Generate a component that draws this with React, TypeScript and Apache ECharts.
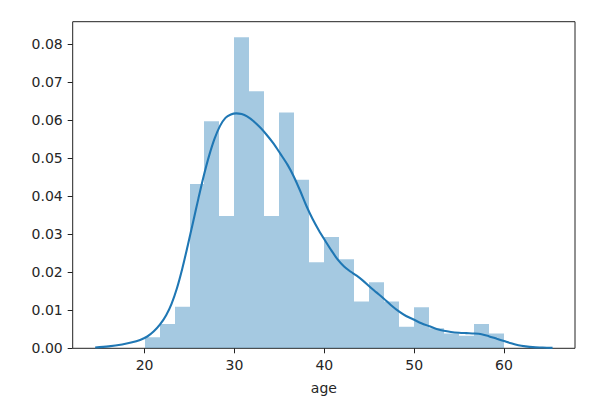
import React, { useEffect, useRef } from "react";
import * as echarts from "echarts";

// Histogram (density) of age: 24 bins from 20 to 60
const binStart = 20;
const binEnd = 60;
const density = [
  0.0029, 0.0064, 0.0109, 0.0432, 0.0597, 0.0348, 0.0818, 0.0676,
  0.0348, 0.062, 0.0443, 0.0226, 0.0293, 0.0234, 0.0123, 0.0174,
  0.0123, 0.0057, 0.0108, 0.0053, 0.0039, 0.0033, 0.0064, 0.0039,
];

// KDE curve
const kdeX = [
  14.5, 16.0, 17.5, 18.5, 19.5, 20.3, 21.0, 21.7, 22.4, 23.0, 23.6, 24.2,
  24.8, 25.4, 26.0, 26.6, 27.2, 27.8, 28.4, 29.0, 29.6, 30.2, 30.8, 31.4,
  32.1, 32.9, 33.6, 34.4, 35.1, 35.9, 36.6, 37.3, 38.0, 38.7, 39.4, 40.1,
  40.8, 41.5, 42.2, 42.9, 43.6, 44.3, 45.0, 45.8, 46.6, 47.4, 48.3, 49.1,
  50.0, 50.8, 51.7, 52.5, 53.3, 54.1, 55.0, 55.8, 56.7, 57.5, 58.3, 59.2,
  60.0, 60.8, 61.6, 62.4, 63.2, 64.3, 65.4,
];
const kdeY = [
  0.0002, 0.0005, 0.001, 0.0015, 0.0022, 0.0031, 0.0044, 0.0062, 0.0087,
  0.0117, 0.0158, 0.021, 0.027, 0.0332, 0.0395, 0.0455, 0.0508, 0.0552,
  0.0585, 0.0606, 0.0615, 0.0618, 0.0616, 0.061, 0.0598, 0.058, 0.0561,
  0.0537, 0.0512, 0.0483, 0.0452, 0.0415, 0.0375, 0.034, 0.031, 0.0283,
  0.0257, 0.0233, 0.0215, 0.0202, 0.0191, 0.0178, 0.0163, 0.0147, 0.0131,
  0.0114, 0.0097, 0.0085, 0.0075, 0.0066, 0.0058, 0.0051, 0.0046, 0.0043,
  0.0041, 0.004, 0.0039, 0.0037, 0.0032, 0.0025, 0.0019, 0.0013, 0.0008,
  0.0005, 0.0003, 0.0002, 0.0001,
];

const xTicks = [20, 30, 40, 50, 60];
const yTicks = [0, 0.01, 0.02, 0.03, 0.04, 0.05, 0.06, 0.07, 0.08];
const xName = "age";

export default function App() {
  const ref = useRef<HTMLDivElement>(null);

  useEffect(() => {
    if (!ref.current) return;
    const chart = echarts.init(ref.current, undefined, { renderer: "svg" });
    const bw = (binEnd - binStart) / density.length;
    const histData = density.map((d, i) => [
      binStart + i * bw,
      binStart + (i + 1) * bw,
      d,
    ]);
    const kdeData = kdeX.map((x, i) => [x, kdeY[i]]);
    const textColor = "#262626";
    const font = "DejaVu Sans";

    chart.setOption({
      animation: false,
      backgroundColor: "#ffffff",
      grid: {
        left: 72.7,
        right: 30,
        top: 21.7,
        bottom: 54.7,
        show: true,
        borderColor: "#222",
        borderWidth: 1,
        backgroundColor: "transparent",
      },
      xAxis: {
        type: "value",
        min: 12,
        max: 67.9,
        name: xName,
        nameLocation: "middle",
        nameGap: 33,
        nameTextStyle: { color: textColor, fontSize: 14, fontFamily: font },
        axisLine: { show: false },
        axisTick: {
          show: true,
          length: 5,
          lineStyle: { color: "#222", width: 1 },
          customValues: xTicks,
        },
        axisLabel: {
          color: textColor,
          fontSize: 14,
          fontFamily: font,
          margin: 10,
          customValues: xTicks,
        },
        splitLine: { show: false },
      },
      yAxis: {
        type: "value",
        min: 0,
        max: 0.0859,
        axisLine: { show: false },
        axisTick: {
          show: true,
          length: 5,
          lineStyle: { color: "#222", width: 1 },
          customValues: yTicks,
        },
        axisLabel: {
          color: textColor,
          fontSize: 14,
          fontFamily: font,
          margin: 10,
          customValues: yTicks,
          formatter: (v: number) => v.toFixed(2),
        },
        splitLine: { show: false },
      },
      series: [
        {
          type: "custom",
          data: histData,
          encode: { x: [0, 1], y: 2 },
          clip: true,
          renderItem: (params: any, api: any) => {
            const p0 = api.coord([api.value(0), api.value(2)]);
            const p1 = api.coord([api.value(1), 0]);
            const x0 = Math.round(p0[0]);
            const x1 = Math.round(p1[0]);
            return {
              type: "rect",
              shape: {
                x: x0,
                y: p0[1],
                width: x1 - x0,
                height: p1[1] - p0[1],
              },
              style: { fill: "rgba(31,119,180,0.4)" },
            };
          },
          z: 1,
        },
        {
          type: "line",
          data: kdeData,
          showSymbol: false,
          smooth: 0.3,
          lineStyle: { color: "#1f77b4", width: 2.1 },
          z: 2,
        },
      ],
    });
    return () => chart.dispose();
  }, []);

  return (
    <div
      ref={ref}
      style={{ position: "fixed", left: 0, top: 0, width: 605, height: 403 }}
    />
  );
}
